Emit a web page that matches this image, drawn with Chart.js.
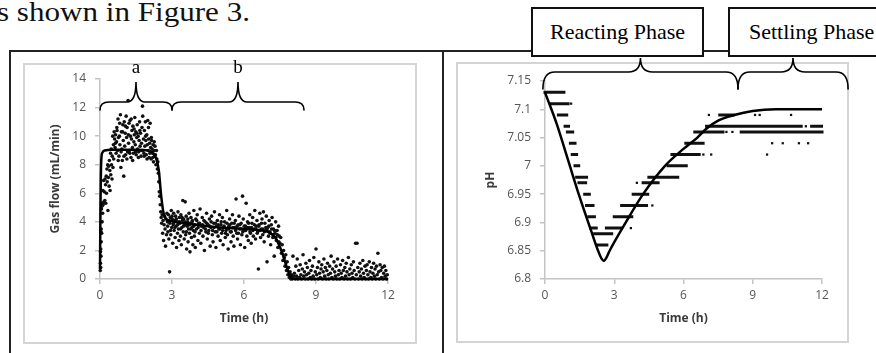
<!DOCTYPE html>
<html>
<head>
<meta charset="utf-8">
<script src="https://cdn.jsdelivr.net/npm/chart.js@4.4.1/dist/chart.umd.min.js"></script>
<style>
  html,body{margin:0;padding:0;background:#fff;}
  body{width:876px;height:353px;position:relative;overflow:hidden;font-family:"Liberation Serif",serif;}
  .abs{position:absolute;}
  .hline{position:absolute;height:2px;background:#222;}
  .vline{position:absolute;width:2px;background:#222;}
  .frame{position:absolute;border:2px solid #d4d4d4;box-sizing:border-box;}
  .phase{position:absolute;top:7px;height:50px;border:2px solid #111;background:#fff;box-sizing:border-box;
    font-family:"Liberation Serif",serif;font-size:22px;line-height:46px;color:#000;white-space:nowrap;z-index:5;}
  canvas{position:absolute;z-index:3;}
</style>
</head>
<body>
<div class="abs" id="lead" style="left:-3px;top:-4px;font-size:28px;transform:scaleX(1.11);transform-origin:0 0;color:#111;white-space:nowrap;">s shown in Figure 3.</div>

<div class="hline" style="left:9px;top:50px;width:870px;"></div>
<div class="vline" style="left:9px;top:50px;height:310px;"></div>
<div class="vline" style="left:442px;top:50px;height:310px;"></div>

<div class="frame" style="left:23px;top:63px;width:394px;height:281px;"></div>
<div class="frame" style="left:456px;top:62px;width:393px;height:281px;"></div>

<div class="phase" style="left:531px;width:173px;text-align:center;">Reacting Phase</div>
<div class="phase" style="left:728px;width:160px;padding-left:19px;">Settling Phase</div>

<canvas id="gasChart" width="432" height="301" style="left:10px;top:52px;"></canvas>
<canvas id="phChart" width="431" height="353" style="left:445px;top:0px;"></canvas>

<script>
// ─── DATA ───────────────────────────────────────────────────────────
const timeTicks = [0, 3, 6, 9, 12];

// gas flow measurements [time h, mL/min]
const gasFlowPoints = [
  [0.01,0.6],[0.02,1.1],[0.02,1.9],[0.03,0.8],[0.03,2.1],[0.04,3.3],[0.04,1.6],[0.05,3.5],[0.05,2.6],[0.06,4.9],
  [0.07,3.2],[0.08,5.1],[0.09,4.0],[0.10,5.3],[0.11,4.6],[0.12,6.2],
  [0.13,5.2],[0.15,6.9],[0.16,5.4],[0.18,6.1],[0.20,5.5],[0.21,7.0],[0.23,6.6],[0.24,5.3],[0.26,7.2],[0.27,6.0],
  [0.29,7.7],[0.30,6.8],[0.32,8.0],[0.33,4.8],[0.35,7.1],[0.36,7.9],[0.38,6.5],[0.39,8.3],[0.41,7.6],[0.42,6.2],
  [0.44,8.8],[0.45,7.3],[0.47,9.1],[0.48,8.0],[0.50,7.0],[0.51,8.6],[0.53,10.0],[0.54,7.8],[0.56,9.4],[0.57,8.4],[0.59,10.3],
  [0.61,9.8],[0.63,9.2],[0.65,10.1],[0.67,8.8],[0.69,9.6],[0.71,10.4],[0.73,9.0],[0.75,11.2],[0.77,9.9],[0.79,8.6],
  [0.81,10.0],[0.83,9.4],[0.85,11.5],[0.87,7.8],[0.89,10.3],[0.91,9.1],[0.93,8.3],[0.95,10.8],[0.97,9.7],[0.99,7.2],
  [1.01,11.0],[1.03,9.3],[1.05,10.2],[1.07,8.7],[1.09,11.4],[1.11,9.9],[1.13,10.6],[1.15,8.9],[1.17,12.5],[1.19,9.5],
  [1.21,10.9],[1.23,9.0],[1.25,11.1],[1.27,10.0],[1.29,8.5],[1.31,9.8],[1.33,10.4],[1.35,9.2],[1.37,10.7],[1.39,8.8],
  [1.41,9.6],[1.43,10.1],[1.45,11.3],[1.47,9.4],[1.49,10.3],[1.51,8.7],[1.53,9.9],[1.55,10.8],[1.57,9.1],[1.59,10.0],
  [1.61,8.9],[1.63,9.7],[1.65,11.0],[1.67,9.3],[1.69,10.2],[1.71,8.6],[1.73,9.5],[1.75,10.6],[1.77,12.1],[1.79,9.0],
  [1.81,9.8],[1.83,8.8],[1.85,10.4],[1.87,9.3],[1.89,11.0],[1.91,9.7],[1.93,8.7],[1.95,10.1],[1.97,9.4],[1.99,11.1],
  [2.01,9.0],[2.03,9.8],[2.05,8.5],[2.07,9.5],[2.09,10.9],[2.11,9.2],[2.13,8.4],[2.15,9.7],[2.17,9.1],[2.19,8.8],
  [2.21,9.4],[2.23,8.2],[2.25,9.0],[2.27,8.6],[2.29,9.3],
  [0.64,9.5],[0.70,10.6],[0.76,8.3],[0.82,10.9],[0.88,8.9],[0.94,10.3],[1.00,8.6],[1.06,10.7],[1.12,8.4],[1.18,10.1],
  [1.24,8.8],[1.30,11.2],[1.36,8.3],[1.42,10.5],[1.48,8.9],[1.54,10.2],[1.60,8.5],[1.66,10.4],[1.72,9.0],[1.78,11.4],
  [1.84,8.6],[1.90,10.0],[1.96,8.4],[2.02,10.6],[2.08,8.8],[2.14,9.9],[2.20,8.5],[2.26,9.6],
  [2.31,8.7],[2.33,8.0],[2.35,9.0],[2.37,8.4],[2.39,7.7],[2.41,8.2],[2.43,7.4],[2.45,6.8],[2.47,6.1],[2.49,5.8],
  [2.51,5.2],[2.53,4.7],[2.55,4.3],[2.57,3.9],[2.59,4.5],[2.61,3.2],[2.63,4.1],[2.65,2.7],[2.67,3.8],[2.69,4.4],
  [2.71,3.5],[2.73,2.3],[2.75,4.2],[2.77,3.1],[2.79,4.6],
  [2.81,4.0],[2.83,3.3],[2.85,4.5],[2.87,2.8],[2.90,0.5],[2.91,3.9],[2.93,4.3],[2.95,3.1],[2.97,4.8],[2.99,3.6],
  [3.01,4.2],[3.03,2.5],[3.05,3.8],[3.07,4.6],[3.09,3.4],[3.11,4.1],[3.13,2.9],[3.15,4.4],[3.17,3.7],[3.19,2.2],
  [3.21,4.0],[3.23,3.2],[3.25,4.7],[3.27,3.5],[3.29,2.7],[3.31,4.3],[3.33,3.9],[3.35,3.0],[3.37,4.5],[3.39,2.4],
  [3.41,3.6],[3.43,4.1],[3.45,5.5],[3.47,3.3],[3.49,4.2],[3.51,2.8],[3.53,3.8],[3.55,5.4],[3.57,3.1],[3.59,4.4],
  [3.61,2.1],[3.63,3.7],[3.65,4.0],[3.67,2.6],[3.69,3.5],[3.71,4.6],[3.73,3.2],[3.75,1.9],[3.77,3.9],[3.79,4.3],
  [3.81,2.9],[3.83,3.6],[3.85,4.1],[3.87,2.4],[3.89,3.4],[3.91,4.8],[3.93,3.0],[3.95,3.8],[3.97,2.2],[3.99,4.2],
  [4.02,3.5],[4.05,4.5],[4.08,2.7],[4.11,3.9],[4.14,3.2],[4.17,4.9],[4.20,2.5],[4.23,3.7],[4.26,4.3],[4.29,3.0],
  [4.32,3.6],[4.35,2.0],[4.38,4.0],[4.41,3.3],[4.44,4.6],[4.47,2.8],[4.50,3.8],[4.53,3.4],[4.56,4.2],[4.59,2.3],
  [4.62,3.6],[4.65,4.4],[4.68,3.1],[4.71,2.6],[4.74,3.9],[4.77,4.7],[4.80,3.3],[4.83,2.2],[4.86,3.7],[4.89,4.1],
  [4.92,3.0],[4.95,3.5],[4.98,4.5],[5.01,2.7],[5.04,3.8],[5.07,3.2],[5.10,4.3],[5.13,2.4],[5.16,3.6],[5.19,4.0],
  [5.22,2.9],[5.25,3.4],[5.28,4.8],[5.31,3.1],[5.34,2.1],[5.37,3.7],[5.40,4.2],[5.43,3.3],[5.46,2.6],[5.49,3.9],
  [5.52,4.5],[5.55,3.0],[5.58,2.3],[5.61,3.6],[5.64,4.1],[5.67,5.6],[5.70,3.2],[5.73,2.8],[5.76,3.8],[5.79,4.4],
  [5.82,3.5],[5.85,2.4],[5.88,3.9],[5.91,3.1],[5.94,5.8],[5.97,4.2],[6.00,3.4],[6.03,2.2],[6.06,3.7],[6.09,5.3],
  [6.12,3.0],[6.15,4.0],[6.18,2.7],[6.21,3.6],[6.24,4.5],[6.27,3.2],[6.30,2.5],[6.33,3.9],[6.36,4.3],[6.39,3.0],
  [6.42,3.5],[6.45,4.8],[6.48,2.8],[6.51,3.7],[6.54,4.1],[6.57,3.3],[6.60,0.7],[6.63,3.8],[6.66,4.6],[6.69,2.9],
  [6.72,3.5],[6.75,4.2],[6.78,3.1],[6.81,4.7],[6.84,2.6],[6.87,3.9],[6.90,3.4],[6.93,4.4],[6.96,1.2],[6.99,3.6],
  [7.02,3.0],[7.05,4.1],[7.08,3.3],[7.11,2.4],[7.14,3.8],[7.17,4.3],[7.20,2.9],[7.23,3.5],[7.26,1.6],[7.29,3.2],
  [7.32,4.0],[7.35,2.7],[7.38,3.4],[7.41,2.2],[7.44,3.7],[7.47,3.0],[7.50,2.5],
  [2.82,3.7],[2.88,4.1],[2.94,3.4],[3.00,4.4],[3.06,3.9],[3.12,3.6],[3.18,4.2],[3.24,3.8],[3.30,4.0],[3.36,3.5],
  [3.42,4.3],[3.48,3.7],[3.54,4.0],[3.60,3.3],[3.66,4.2],[3.72,3.8],[3.78,3.5],[3.84,4.0],[3.90,3.7],[3.96,3.3],
  [4.03,4.1],[4.09,3.6],[4.15,3.9],[4.21,3.4],[4.27,3.8],[4.33,4.1],[4.39,3.5],[4.45,3.9],[4.51,3.2],[4.57,3.7],
  [4.63,4.0],[4.69,3.4],[4.75,3.6],[4.81,3.9],[4.87,3.3],[4.93,3.8],[4.99,3.5],[5.05,4.0],[5.11,3.4],[5.17,3.7],
  [5.23,3.2],[5.29,3.9],[5.35,3.5],[5.41,3.8],[5.47,3.3],[5.53,3.6],[5.59,3.9],[5.65,3.4],[5.71,3.7],[5.77,3.2],
  [5.83,3.8],[5.89,3.5],[5.95,3.3],[6.01,3.7],[6.07,3.4],[6.13,3.6],[6.19,3.9],[6.25,3.3],[6.31,3.6],[6.37,3.4],
  [6.43,3.8],[6.49,3.5],[6.55,3.2],[6.61,3.7],[6.67,3.4],[6.73,3.9],[6.79,3.5],[6.85,3.3],[6.91,3.6],[6.97,3.4],
  [7.03,3.7],[7.09,3.2],[7.15,3.5],[7.21,3.1],[7.27,3.4],[7.33,2.9],[7.39,3.1],[7.45,2.6],
  [7.53,2.9],[7.56,1.8],[7.59,2.4],[7.62,1.3],[7.65,2.0],[7.68,1.5],[7.71,0.9],[7.74,1.7],[7.77,0.6],[7.80,1.2],
  [7.83,0.3],[7.86,0.8],[7.89,0.1],[7.92,0.5],[7.95,0.0],[7.98,0.3],[8.01,0.0],[8.04,1.6],[8.07,0.2],
  [8.10,0.4],[8.13,0.0],[8.16,0.9],[8.19,0.2],[8.22,1.4],[8.25,0.0],[8.28,0.6],[8.31,0.1],[8.34,1.0],[8.37,0.3],
  [8.40,0.0],[8.43,0.7],[8.46,1.7],[8.49,0.2],[8.52,0.5],[8.55,0.0],[8.58,1.1],[8.61,0.3],[8.64,0.8],[8.67,0.0],
  [8.70,0.4],[8.73,1.3],[8.76,0.1],[8.79,0.6],[8.82,0.0],[8.85,0.9],[8.88,0.2],[8.91,1.5],[8.94,0.0],[8.97,0.5],
  [9.00,2.1],[9.03,0.3],[9.06,0.8],[9.09,0.0],[9.12,1.2],[9.15,0.4],[9.18,0.1],[9.21,0.7],[9.24,1.0],[9.27,0.0],
  [9.30,0.5],[9.33,1.4],[9.36,0.2],[9.39,0.8],[9.42,0.0],[9.45,0.6],[9.48,1.1],[9.51,0.3],[9.54,0.0],[9.57,0.9],
  [9.60,0.4],[9.63,1.6],[9.66,0.1],[9.69,0.7],[9.72,0.0],[9.75,1.2],[9.78,0.5],[9.81,0.2],[9.84,0.9],[9.87,0.0],
  [9.90,1.4],[9.93,0.3],[9.96,0.6],[9.99,0.0],[10.02,1.0],[10.05,0.4],[10.08,0.1],[10.11,1.3],[10.14,0.6],[10.17,0.0],
  [10.20,0.8],[10.23,0.2],[10.26,1.1],[10.29,0.5],[10.32,0.0],[10.35,1.5],[10.38,0.3],[10.41,0.7],[10.44,0.0],[10.47,1.0],
  [10.50,0.4],[10.53,0.1],[10.56,1.2],[10.59,0.6],[10.62,0.0],[10.65,2.5],[10.68,0.3],[10.71,2.5],[10.74,0.8],[10.77,0.0],
  [10.80,0.5],[10.83,1.1],[10.86,0.2],[10.89,0.7],[10.92,0.0],[10.95,1.3],[10.98,0.4],[11.01,0.1],[11.04,0.9],[11.07,0.0],
  [11.10,0.6],[11.13,1.0],[11.16,0.3],[11.19,0.0],[11.22,1.2],[11.25,0.5],[11.28,0.1],[11.31,0.8],[11.34,0.0],[11.37,0.4],
  [11.40,1.1],[11.43,0.2],[11.46,0.7],[11.49,0.0],[11.52,0.9],[11.55,0.3],[11.58,1.8],[11.61,0.5],[11.64,0.0],[11.67,1.0],
  [11.70,0.6],[11.73,0.1],[11.76,0.8],[11.79,0.0],[11.82,0.4],[11.85,0.9],[11.88,0.2],[11.91,0.6],[11.94,0.0],[11.97,0.3]
];

// gas flow model curve
const gasModelTime = [0, 0.02, 0.05, 0.1, 0.2, 0.5, 1.5, 2.0, 2.2, 2.35, 2.45, 2.55, 2.65, 2.75, 3.0, 3.5, 4.5, 5.5, 6.5, 7.0, 7.3, 7.6, 7.85, 8.0, 8.2, 12];
const gasModelFlow = [0.7, 5.0, 8.2, 8.85, 9.0, 9.05, 9.05, 9.0, 8.85, 8.4, 7.6, 5.8, 4.6, 4.2, 4.05, 3.9, 3.7, 3.55, 3.45, 3.3, 2.9, 1.8, 0.5, 0.05, 0, 0];

// pH readings come in 0.01 steps, so they show as runs at one level
const phRunLevel = [7.13, 7.11, 7.11, 7.09, 7.07, 7.06, 7.04, 7.02, 7.00, 6.98, 6.97, 6.95, 6.93, 6.91, 6.89, 6.88, 6.86,
  6.89, 6.91, 6.93, 6.95, 6.97, 6.98, 7.00, 7.02, 7.04, 7.06, 7.06, 7.07, 7.07, 7.07, 7.09];
const phRunStart = [0.0, 0.25, 0.95, 0.58, 0.87, 0.97, 1.1, 1.18, 1.3, 1.37, 1.47, 1.72, 1.8, 1.9, 1.97, 2.15, 2.28,
  2.66, 3.0, 3.32, 3.82, 4.25, 4.5, 5.33, 5.5, 6.1, 6.49, 8.5, 7.0, 10.6, 11.55, 7.57];
const phRunEnd = [0.82, 0.85, 1.0, 0.94, 1.02, 1.2, 1.3, 1.37, 1.46, 1.8, 1.76, 1.92, 2.08, 2.14, 2.22, 2.89, 2.68,
  3.32, 3.76, 4.4, 4.45, 4.9, 5.75, 6.12, 6.68, 6.85, 7.71, 12.0, 10.53, 11.1, 11.98, 8.15];
const phDotTime = [1.13, 3.72, 4.65, 3.98, 6.86, 7.2, 7.1, 9.1, 9.3, 10.66, 9.84, 10.3, 11.0, 11.4, 9.62, 7.86, 8.12, 11.3];
const phDotLevel = [7.11, 6.89, 6.93, 6.97, 7.02, 7.02, 7.09, 7.09, 7.09, 7.09, 7.04, 7.04, 7.04, 7.04, 7.02, 7.06, 7.06, 7.07];

// pH model curve
const phModelTime = [0, 0.5, 1.0, 1.5, 2.0, 2.3, 2.45, 2.55, 2.65, 2.8, 3.5, 4.25, 5.2, 6.0, 6.6, 7.0, 7.5, 8.2, 9.0, 10.0, 12];
const phModelValue = [7.13, 7.075, 7.01, 6.945, 6.885, 6.85, 6.836, 6.832, 6.837, 6.85, 6.9, 6.95, 7.0, 7.03, 7.05, 7.066, 7.08, 7.09, 7.097, 7.1, 7.1];

// phase braces (time h)
const gasBraceFrom = [0, 3.0];
const gasBraceTo = [3.0, 8.5];
const gasBraceLabel = ['a', 'b'];
const phBraceFrom = [-0.09, 8.36];
const phBraceTo = [8.36, 13.13];

// ─── HELPERS ────────────────────────────────────────────────────────
const AXIS_GREY = '#c4c4c4';
const TICK_FONT = {family:'"Open Sans", sans-serif', size:12};
const TITLE_FONT = {family:'"Open Sans", sans-serif', size:12, weight:'bold'};

function xy(xs, ys){ return xs.map((x,i)=>({x, y:ys[i]})); }

function runsToSegments(levels, starts, ends){
  const out=[];
  levels.forEach((l,i)=>{ out.push({x:starts[i],y:l},{x:ends[i],y:l},{x:ends[i],y:null}); });
  return out;
}

// curly braces drawn over the chart, positions from the x scale
const bracePlugin = {
  id:'braces',
  afterDraw(chart, args, o){
    const ctx=chart.ctx, xs=chart.scales.x, top=chart.chartArea.top;
    const yEnd=top+o.yEnd, yMid=top+o.yMid, yTip=top+o.yTip, r=o.r;
    ctx.save();
    ctx.strokeStyle='#000'; ctx.lineWidth=1.6; ctx.lineCap='round';
    o.from.forEach((f,i)=>{
      const x0=xs.getPixelForValue(f), x1=xs.getPixelForValue(o.to[i]), xm=(x0+x1)/2;
      ctx.beginPath();
      ctx.moveTo(x0,yEnd);
      ctx.quadraticCurveTo(x0,yMid,x0+r,yMid);
      ctx.lineTo(xm-r,yMid);
      ctx.quadraticCurveTo(xm,yMid,xm,yTip);
      ctx.quadraticCurveTo(xm,yMid,xm+r,yMid);
      ctx.lineTo(x1-r,yMid);
      ctx.quadraticCurveTo(x1,yMid,x1,yEnd);
      ctx.stroke();
      if(o.labels && o.labels[i]){
        ctx.fillStyle='#000'; ctx.font='19px "Liberation Serif", serif';
        ctx.textAlign='center'; ctx.textBaseline='alphabetic';
        ctx.fillText(o.labels[i], xm, top+o.labelY);
      }
    });
    ctx.restore();
  }
};

function scales(opt){
  return {
    x:{type:'linear', min:0, max:12, afterBuildTicks:s=>{ s.ticks=timeTicks.map(v=>({value:v})); },
       afterFit:s=>{ s.height=60; },
       border:{display:true,color:AXIS_GREY,width:1.5},
       grid:{drawOnChartArea:false,drawTicks:true,tickLength:5,color:AXIS_GREY,lineWidth:1.5},
       ticks:{color:'#555',font:TICK_FONT,padding:4,maxRotation:0},
       title:{display:true,text:'Time (h)',color:'#3a3a3a',font:TITLE_FONT,padding:{top:0,bottom:13}}},
    y:{type:'linear', min:opt.min, max:opt.max,
       afterFit:s=>{ s.width=opt.yWidth; },
       border:{display:true,color:AXIS_GREY,width:1.5},
       grid:{drawOnChartArea:false,drawTicks:true,tickLength:5,color:AXIS_GREY,lineWidth:1.5},
       ticks:{stepSize:opt.step,color:'#555',font:TICK_FONT,padding:9,callback:v=>String(+v.toFixed(2))},
       title:{display:true,text:opt.title,color:'#3a3a3a',font:TITLE_FONT,padding:{top:opt.titlePad,bottom:0}}}
  };
}

// ─── CHARTS ─────────────────────────────────────────────────────────
Chart.defaults.devicePixelRatio=1;

new Chart(document.getElementById('gasChart'),{
  type:'scatter',
  data:{datasets:[
    {type:'line',data:xy(gasModelTime,gasModelFlow),borderColor:'#000',borderWidth:2.5,pointRadius:0,cubicInterpolationMode:'monotone',clip:false},
    {data:gasFlowPoints.map(p=>({x:p[0],y:p[1]})),pointRadius:1.8,pointBorderWidth:0,backgroundColor:'#111',clip:false}
  ]},
  options:{responsive:false,animation:false,
    layout:{padding:{left:30,top:27,right:54,bottom:14}},
    plugins:{legend:{display:false},tooltip:{enabled:false},
      braces:{from:gasBraceFrom,to:gasBraceTo,labels:gasBraceLabel,yEnd:31,yMid:23,yTip:3,r:9,labelY:-6}},
    scales:scales({min:0,max:14,step:2,title:'Gas flow (mL/min)',yWidth:60,titlePad:8})},
  plugins:[bracePlugin]
});

new Chart(document.getElementById('phChart'),{
  type:'scatter',
  data:{datasets:[
    {type:'line',data:xy(phModelTime,phModelValue),borderColor:'#000',borderWidth:2.5,pointRadius:0,cubicInterpolationMode:'monotone',clip:false},
    {type:'line',data:runsToSegments(phRunLevel,phRunStart,phRunEnd),showLine:true,spanGaps:false,borderColor:'#111',borderWidth:3,borderCapStyle:'square',pointRadius:0,clip:false},
    {data:xy(phDotTime,phDotLevel),pointStyle:'rect',pointRadius:1.6,pointBorderWidth:0,backgroundColor:'#111',clip:false}
  ]},
  options:{responsive:false,animation:false,
    layout:{padding:{left:38,top:81,right:54,bottom:14}},
    plugins:{legend:{display:false},tooltip:{enabled:false},
      braces:{from:phBraceFrom,to:phBraceTo,yEnd:8,yMid:-9,yTip:-23,r:12}},
    scales:scales({min:6.8,max:7.15,step:0.05,title:'pH',yWidth:62,titlePad:0})},
  plugins:[bracePlugin]
});
</script>
</body>
</html>
